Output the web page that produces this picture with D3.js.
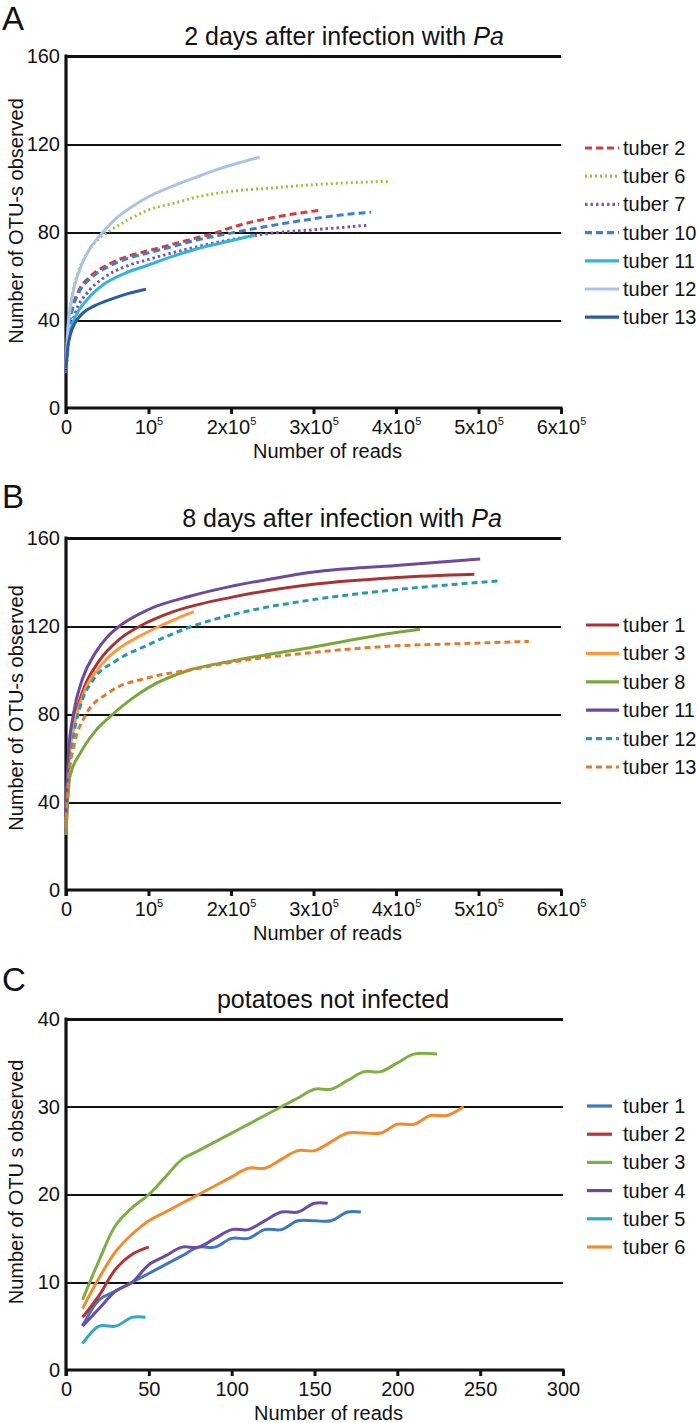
<!DOCTYPE html>
<html><head><meta charset="utf-8">
<script src="https://cdn.jsdelivr.net/npm/d3@7"></script>
<style>
html,body{margin:0;padding:0;background:#fff;}
svg text{font-family:"Liberation Sans",Arial,sans-serif;fill:#111;}
</style></head>
<body><svg id="chart" width="697" height="1423"></svg>
<script>
// ---------- data ----------
const xTicksAB = [0, 100000, 200000, 300000, 400000, 500000, 600000];
const xTickBaseAB = ["0", "10", "2x10", "3x10", "4x10", "5x10", "6x10"];
const xTickSupAB = ["", "5", "5", "5", "5", "5", "5"];
const yTicksAB = [0, 40, 80, 120, 160];
const xTicksC = [0, 50, 100, 150, 200, 250, 300];
const yTicksC = [0, 10, 20, 30, 40];

// Panel A: 2 days after infection
const namesA = ["tuber 2", "tuber 6", "tuber 7", "tuber 10", "tuber 11", "tuber 12", "tuber 13"];
const colorsA = ["#d93b3b", "#9ac43e", "#7a57b0", "#3d7fd4", "#33b5d9", "#a9c2e8", "#2a5aa8"];
const dashesA = ["7,4", "2,3", "2.5,3", "7,4", null, null, null];
const a_t2  = [[0,18],[3000,36],[8000,46],[15000,53],[30000,60],[50000,65],[75000,69],[100000,71.5],[130000,74.5],[160000,77.5],[185000,80],[200000,82],[250000,86.5],[310000,90]];
const a_t6  = [[0,20],[3000,38],[8000,52],[15000,62],[25000,70],[40000,77],[55000,81],[75000,85.5],[100000,90],[130000,93],[160000,96],[200000,98.5],[250000,100],[300000,101.5],[350000,102.5],[390000,103]];
const a_t7  = [[0,16],[2000,26],[6000,36],[12000,44],[25000,52],[45000,59],[70000,64],[100000,67.5],[150000,72.5],[200000,76.5],[250000,79.5],[300000,81],[364000,83]];
const a_t10 = [[0,18],[3000,35],[8000,45],[15000,52],[30000,59],[50000,64],[75000,68],[100000,70.5],[130000,73.5],[160000,76.5],[200000,79.5],[250000,83],[300000,86],[340000,88],[370000,89]];
const a_t11 = [[0,18],[2000,28],[6000,36],[12000,42],[25000,49],[45000,56],[70000,61],[100000,65],[130000,69],[160000,72.5],[200000,76],[228000,78.5]];
const a_t12 = [[0,18],[2000,35],[5000,45],[10000,55],[20000,66],[30000,73],[45000,80],[60000,86],[80000,91.5],[100000,96],[130000,101],[155000,104.5],[180000,108],[210000,111.5],[235000,114]];
const a_t13 = [[0,18],[2000,27],[5000,33],[10000,38],[20000,43],[35000,46.5],[55000,49.5],[75000,52],[97000,54]];
const seriesA = [a_t2, a_t6, a_t7, a_t10, a_t11, a_t12, a_t13];

// Panel B: 8 days after infection
const namesB = ["tuber 1", "tuber 3", "tuber 8", "tuber 11", "tuber 12", "tuber 13"];
const colorsB = ["#a83234", "#ff9a3c", "#78a838", "#6b4aa0", "#2c97b3", "#e07b2e"];
const dashesB = [null, null, null, null, "6,4", "6,4"];
const b_t1  = [[0,33],[3000,58],[9000,75],[20000,90],[40000,104],[65000,114],[90000,120],[130000,126.5],[200000,133],[300000,139],[400000,142],[495000,143.5]];
const b_t3  = [[0,30],[3000,56],[9000,73],[20000,88],[41000,101.5],[65000,110],[90000,115.5],[114000,120],[135000,123.5],[155000,126.5]];
const b_t8  = [[0,25],[2000,40],[5000,52],[17000,62],[35000,72],[57000,80],[80000,87],[100000,92],[150000,100],[200000,104],[300000,110.5],[400000,117],[429000,118.5]];
const b_t11 = [[0,35],[3000,62],[9000,80],[20000,96],[36000,108],[50000,115],[65000,120],[100000,127.5],[150000,133.5],[200000,138],[250000,141.5],[300000,144.5],[400000,147.5],[502000,150.5]];
const b_t12 = [[0,28],[3000,50],[8000,67],[17000,83],[33000,95.5],[60000,104],[100000,111.5],[154000,120],[200000,125],[300000,132],[400000,136.5],[526000,140.5]];
const b_t13 = [[0,28],[3000,50],[10000,66],[23000,79],[53000,90],[100000,96.5],[150000,100],[200000,103.5],[300000,108],[400000,111],[480000,112],[561000,113]];
const seriesB = [b_t1, b_t3, b_t8, b_t11, b_t12, b_t13];

// Panel C: potatoes not infected
const namesC = ["tuber 1", "tuber 2", "tuber 3", "tuber 4", "tuber 5", "tuber 6"];
const colorsC = ["#3a78c2", "#b63434", "#7cb043", "#6b4ca3", "#32a6c2", "#f28a2e"];
const c_t1 = [[10,5],[20,8],[30,9],[40,10],[50,11],[60,12],[70,13],[80,14],[90,14],[100,15],[110,15],[120,16],[130,16],[140,17],[150,17],[160,17],[170,18],[178,18]];
const c_t2 = [[10,6],[20,8.5],[30,11.5],[40,13.2],[50,14]];
const c_t3 = [[10,8],[20,12.5],[30,16.5],[40,18.5],[50,20],[60,22],[70,24],[80,25],[90,26],[100,27],[110,28],[120,29],[130,30],[140,31],[150,32],[160,32],[170,33],[180,34],[190,34],[200,35],[210,36],[224,36]];
const c_t4 = [[10,5],[20,7],[30,9],[40,10],[50,12],[60,13],[70,14],[80,14],[90,15],[100,16],[110,16],[120,17],[130,18],[140,18],[150,19],[158,19]];
const c_t5 = [[10,3],[20,5],[30,5],[40,6],[48,6]];
const c_t6 = [[10,7],[20,10.5],[30,13.5],[40,15.5],[50,17],[60,18],[70,19],[80,20],[90,21],[100,22],[110,23],[120,23],[130,24],[140,25],[150,25],[160,26],[170,27],[180,27],[190,27],[200,28],[210,28],[220,29],[230,29],[240,30]];
const seriesC = [c_t1, c_t2, c_t3, c_t4, c_t5, c_t6];

// ---------- drawing ----------
const svg = d3.select("#chart");

function panel(o) {
  const g = svg.append("g");
  const x = d3.scaleLinear().domain(o.xDomain).range([o.left, o.right]);
  const y = d3.scaleLinear().domain(o.yDomain).range([o.bottom, o.top]);

  // panel letter
  g.append("text").attr("x", 2).attr("y", o.letterY).attr("font-size", 33).text(o.letter);
  // title
  const t = g.append("text").attr("x", o.titleX).attr("y", o.top - 11)
    .attr("text-anchor", "middle").attr("font-size", 25);
  t.append("tspan").text(o.title);
  if (o.titleItalic) t.append("tspan").attr("font-style", "italic").text(o.titleItalic);

  // gridlines + y labels
  const ya = g.append("g").attr("transform", `translate(${o.left},0)`)
    .call(d3.axisLeft(y).tickValues(o.yTicks).tickSize(-(o.right - o.left)).tickPadding(6).tickFormat(d3.format("d")));
  ya.select(".domain").remove();
  ya.selectAll(".tick line").attr("stroke", "#111").attr("stroke-width", d => d === o.yDomain[1] ? 3.2 : 2)
    .attr("shape-rendering", "crispEdges");
  ya.selectAll(".tick line").filter(d => d === 0).remove();
  ya.selectAll(".tick text").attr("font-size", 20).attr("fill", "#111");

  // x axis
  const xa = g.append("g").attr("transform", `translate(0,${o.bottom})`)
    .call(d3.axisBottom(x).tickValues(o.xTicks).tickSize(6).tickPadding(6).tickFormat(() => ""));
  xa.select(".domain").remove();
  xa.selectAll(".tick line").attr("stroke", "#111").attr("stroke-width", 3);
  xa.selectAll(".tick text").each(function(d, i) {
    const tx = d3.select(this).attr("font-size", 20).attr("fill", "#111");
    tx.append("tspan").text(o.xBase[i]);
    if (o.xSup[i]) tx.append("tspan").attr("font-size", 11).attr("dy", -9).text(o.xSup[i]);
  });
  g.append("line").attr("x1", o.left).attr("x2", o.right + 1.5).attr("y1", o.bottom).attr("y2", o.bottom)
    .attr("stroke", "#111").attr("stroke-width", 3.2);
  g.append("line").attr("x1", o.left).attr("x2", o.left).attr("y1", o.top - 1.5).attr("y2", o.bottom + 6)
    .attr("stroke", "#111").attr("stroke-width", 3.2);

  // axis titles
  g.append("text").attr("x", (o.left + o.right) / 2 + 14).attr("y", o.bottom + 50)
    .attr("text-anchor", "middle").attr("font-size", 20).text("Number of reads");
  g.append("text").attr("transform", `translate(23,${o.yTitleY}) rotate(-90)`)
    .attr("text-anchor", "middle").attr("font-size", 20).text(o.yTitle);

  // lines
  const line = d3.line().x(d => x(d[0])).y(d => y(d[1])).curve(o.curve);
  o.series.forEach((s, i) => {
    const p = g.append("path").datum(s).attr("d", line).attr("fill", "none")
      .attr("stroke", o.colors[i]).attr("stroke-width", 3).attr("stroke-linejoin", "round");
    if (o.dashes && o.dashes[i]) p.attr("stroke-dasharray", o.dashes[i]);
  });

  // legend
  o.names.forEach((n, i) => {
    const yy = o.legY + i * o.legStep;
    const l = g.append("line").attr("x1", o.legX1).attr("x2", o.legX2).attr("y1", yy).attr("y2", yy)
      .attr("stroke", o.colors[i]).attr("stroke-width", 3.2);
    if (o.dashes && o.dashes[i]) l.attr("stroke-dasharray", o.dashes[i]);
    g.append("text").attr("x", 623).attr("y", yy).attr("dy", "0.35em").attr("font-size", 20).text(n);
  });
}

panel({letter: "A", letterY: 30, title: "2 days after infection with ", titleItalic: "Pa", titleX: 344,
  top: 56, bottom: 408, left: 66, right: 561, xDomain: [0, 600000], yDomain: [0, 160],
  xTicks: xTicksAB, xBase: xTickBaseAB, xSup: xTickSupAB, yTicks: yTicksAB,
  yTitle: "Number of OTU-s observed", yTitleY: 221,
  series: seriesA, names: namesA, colors: colorsA, dashes: dashesA, curve: d3.curveMonotoneX,
  legY: 148, legStep: 28.2, legX1: 585, legX2: 619});

panel({letter: "B", letterY: 508, title: "8 days after infection with ", titleItalic: "Pa", titleX: 342,
  top: 538, bottom: 890, left: 66, right: 561, xDomain: [0, 600000], yDomain: [0, 160],
  xTicks: xTicksAB, xBase: xTickBaseAB, xSup: xTickSupAB, yTicks: yTicksAB,
  yTitle: "Number of OTU-s observed", yTitleY: 708,
  series: seriesB, names: namesB, colors: colorsB, dashes: dashesB, curve: d3.curveMonotoneX,
  legY: 625, legStep: 28.4, legX1: 586, legX2: 619});

panel({letter: "C", letterY: 991, title: "potatoes not infected", titleItalic: null, titleX: 333,
  top: 1019, bottom: 1370, left: 66, right: 563, xDomain: [0, 300], yDomain: [0, 40],
  xTicks: xTicksC, xBase: xTicksC.map(String), xSup: xTicksC.map(() => ""), yTicks: yTicksC,
  yTitle: "Number of OTU s observed", yTitleY: 1182,
  series: seriesC, names: namesC, colors: colorsC, dashes: null, curve: d3.curveCatmullRom.alpha(0.5),
  legY: 1106, legStep: 28.2, legX1: 587, legX2: 612});
</script>
</body></html>
